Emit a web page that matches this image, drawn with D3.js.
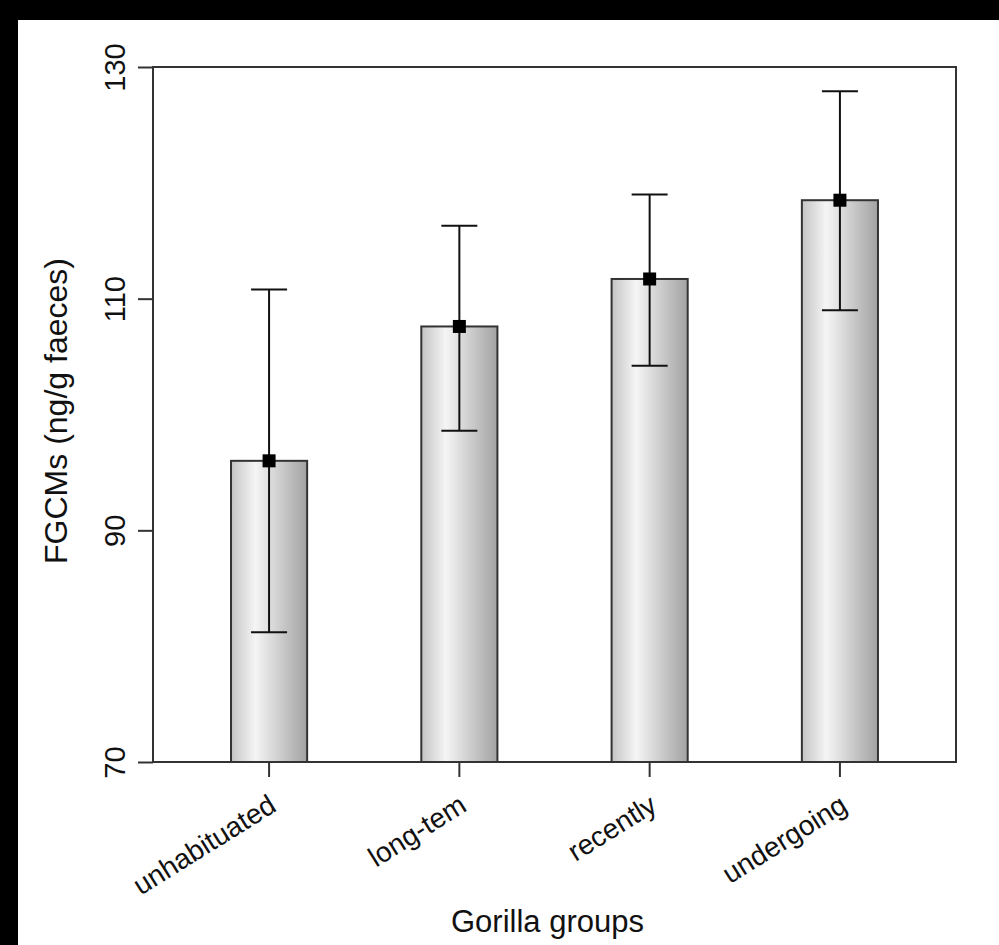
<!DOCTYPE html>
<html>
<head>
<meta charset="utf-8">
<script src="https://cdn.jsdelivr.net/npm/d3@7"></script>
<style>
  html, body { margin: 0; padding: 0; background: #000; }
  svg { display: block; }
  text { font-family: "Liberation Sans", Arial, sans-serif; fill: #111; }
</style>
</head>
<body>
<svg id="chart" width="999" height="945"></svg>
<script>
const categories = ["unhabituated", "long-tem", "recently", "undergoing"];
const means = [96.0, 107.6, 111.7, 118.5];
const upper = [110.8, 116.3, 119.0, 127.9];
const lower = [81.2, 98.6, 104.2, 109.0];
const yTicks = [70, 90, 110, 130];
const yLabel = "FGCMs (ng/g faeces)";
const xLabel = "Gorilla groups";

const svg = d3.select("#chart");
svg.append("rect").attr("x", 18).attr("y", 20).attr("width", 981).attr("height", 925).attr("fill", "#fff");

const pL = 153, pR = 956, pT = 67, pB = 762;

const x = d3.scaleBand().domain(categories).range([pL, pR]).paddingInner(0.6).paddingOuter(0.41);
const y = d3.scaleLinear().domain([70, 130]).range([pB, pT]);

const defs = svg.append("defs");
const grad = defs.append("linearGradient").attr("id", "barGrad").attr("x1", "0%").attr("x2", "100%").attr("y1", "0%").attr("y2", "0%");
grad.append("stop").attr("offset", "0%").attr("stop-color", "#c4c4c4");
grad.append("stop").attr("offset", "32%").attr("stop-color", "#f5f5f5");
grad.append("stop").attr("offset", "75%").attr("stop-color", "#c0c0c0");
grad.append("stop").attr("offset", "100%").attr("stop-color", "#a2a2a2");

// bars
svg.append("g").selectAll("rect").data(categories).join("rect")
  .attr("x", d => x(d))
  .attr("y", (d, i) => y(means[i]))
  .attr("width", x.bandwidth())
  .attr("height", (d, i) => y(70) - y(means[i]))
  .attr("fill", "url(#barGrad)")
  .attr("stroke", "#333")
  .attr("stroke-width", 2);

// error bars
const eb = svg.append("g").attr("stroke", "#111").attr("stroke-width", 2);
const capW = 36;
categories.forEach((c, i) => {
  const cx = x(c) + x.bandwidth() / 2;
  eb.append("line").attr("x1", cx).attr("x2", cx).attr("y1", y(lower[i])).attr("y2", y(upper[i]));
  eb.append("line").attr("x1", cx - capW / 2).attr("x2", cx + capW / 2).attr("y1", y(lower[i])).attr("y2", y(lower[i]));
  eb.append("line").attr("x1", cx - capW / 2).attr("x2", cx + capW / 2).attr("y1", y(upper[i])).attr("y2", y(upper[i]));
});

// markers
svg.append("g").selectAll("rect").data(categories).join("rect")
  .attr("x", d => x(d) + x.bandwidth() / 2 - 6.5)
  .attr("y", (d, i) => y(means[i]) - 6.5)
  .attr("width", 13).attr("height", 13)
  .attr("fill", "#000");

// frame
svg.append("rect").attr("x", pL).attr("y", pT).attr("width", pR - pL).attr("height", pB - pT)
  .attr("fill", "none").attr("stroke", "#333").attr("stroke-width", 2);

// y axis
const yAxis = svg.append("g").attr("transform", `translate(${pL},0)`)
  .call(d3.axisLeft(y).tickValues(yTicks).tickSize(15).tickFormat(d3.format("d")));
yAxis.select(".domain").remove();
yAxis.selectAll(".tick line").attr("stroke", "#333").attr("stroke-width", 2);
yAxis.selectAll(".tick text")
  .attr("x", null).attr("dy", null)
  .attr("transform", "translate(-28,0) rotate(-90)")
  .attr("text-anchor", "middle")
  .style("font-size", "29px")
  .style("font-family", "'Liberation Sans', Arial, sans-serif")
  .attr("fill", "#111");

// x axis
const xAxis = svg.append("g").attr("transform", `translate(0,${pB})`)
  .call(d3.axisBottom(x).tickSize(15));
xAxis.select(".domain").remove();
xAxis.selectAll(".tick line").attr("stroke", "#333").attr("stroke-width", 2);
xAxis.selectAll(".tick text")
  .attr("y", null).attr("dy", null)
  .attr("transform", "translate(9,48) rotate(-32)")
  .attr("text-anchor", "end")
  .style("font-size", "28px")
  .style("font-family", "'Liberation Sans', Arial, sans-serif")
  .attr("fill", "#111");

// axis titles
svg.append("text")
  .attr("transform", `translate(67,411) rotate(-90)`)
  .attr("text-anchor", "middle")
  .style("font-size", "32px")
  .text(yLabel);

svg.append("text")
  .attr("x", (pL + pR) / 2 - 7)
  .attr("y", 932)
  .attr("text-anchor", "middle")
  .style("font-size", "31px")
  .text(xLabel);
</script>
</body>
</html>
